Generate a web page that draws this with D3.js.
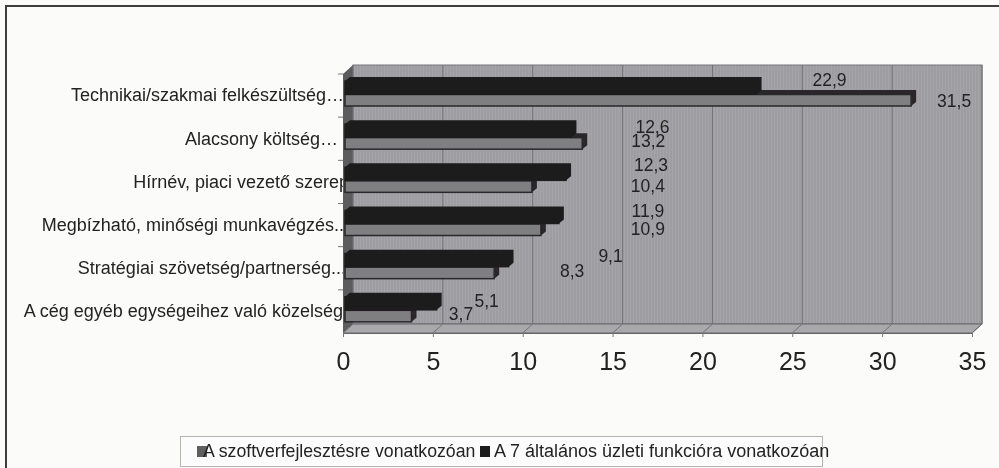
<!DOCTYPE html>
<html>
<head>
<meta charset="utf-8">
<script src="https://cdn.jsdelivr.net/npm/d3@7"></script>
<style>
html,body{margin:0;padding:0;background:#fbfbfa;}
svg{display:block;}
text{font-family:"Liberation Sans",Arial,sans-serif;fill:#232323;}
</style>
</head>
<body>
<svg id="chart"></svg>
<script>
var categories=['Technikai/szakmai felkészültség…','Alacsony költség…\u00a0','Hírnév, piaci vezető szerep','Megbízható, minőségi munkavégzés...','Stratégiai szövetség/partnerség...','A cég egyéb egységeihez való közelség'];
var softwareValues=[31.5,13.2,10.4,10.9,8.3,3.7];
var generalValues=[22.9,12.6,12.3,11.9,9.1,5.1];
var seriesNames=['A szoftverfejlesztésre vonatkozóan','A 7 általános üzleti funkcióra vonatkozóan'];
var xTicks=[0,5,10,15,20,25,30,35];

window.onload=function(){
    var width=999;
    var height=468;
    var plot={left:343,right:972,top:74,bottom:333};
    var depth={x:10,y:9};
    var barDepth={x:5,y:4};

    // hand placed value labels in the original, offset from the bar end
    var softwareNudge=[[43,7],[66,4],[116,6],[107,5.5],[78,4],[49.5,4]];
    var generalNudge=[[73,-14],[81,-10],[85,-15],[89,-12.5],[102,-11],[50,-9]];
    // some category labels run in under the side wall
    var labelShift=[1,0,6,6,3,0];

    var svg=d3.select('#chart').attr('width',width).attr('height',height);

    var xScale=d3.scaleLinear().domain([0,35]).range([plot.left,plot.right]);
    var yScale=d3.scaleBand().domain(categories).range([plot.top,plot.bottom]);

    var defs=svg.append('defs');
    var stripes=defs.append('pattern')
        .attr('id','stripes').attr('width',3).attr('height',4)
        .attr('patternUnits','userSpaceOnUse');
    stripes.append('rect').attr('width',3).attr('height',4).attr('fill','#9e9ea2');
    stripes.append('rect').attr('width',1).attr('height',4).attr('fill','#a5a5a9');
    // the reference is a scan, everything is a little soft
    defs.append('filter').attr('id','soft')
        .append('feGaussianBlur').attr('stdDeviation',0.45);

    var root=svg.append('g').attr('filter','url(#soft)');

    // page frame, only top and left survive the crop
    root.append('path')
        .attr('d','M6,'+height+'V6H'+width)
        .attr('fill','none').attr('stroke','#3c3c3c').attr('stroke-width',2);

    // category labels go under the walls, the third one is cut off by them
    root.append('g').selectAll('text')
        .data(categories)
        .enter()
        .append('text')
        .attr('x',function(d,i){return plot.left+labelShift[i];})
        .attr('y',function(d){return yScale(d)+yScale.bandwidth()/2-0.5;})
        .attr('dy','0.35em')
        .attr('text-anchor','end')
        .attr('font-size',18)
        .text(function(d){return d;});

    // back wall
    root.append('rect')
        .attr('x',plot.left+depth.x)
        .attr('y',plot.top-depth.y)
        .attr('width',plot.right-plot.left)
        .attr('height',plot.bottom-plot.top)
        .attr('fill','url(#stripes)')
        .attr('stroke','#77777a');

    // side wall and floor
    root.append('path')
        .attr('d','M'+plot.left+','+plot.top+'L'+(plot.left+depth.x)+','+(plot.top-depth.y)+'V'+(plot.bottom-depth.y)+'L'+plot.left+','+plot.bottom+'Z')
        .attr('fill','#5c5c5e');
    root.append('path')
        .attr('d','M'+plot.left+','+plot.bottom+'L'+(plot.left+depth.x)+','+(plot.bottom-depth.y)+'H'+(plot.right+depth.x)+'L'+plot.right+','+plot.bottom+'Z')
        .attr('fill','#a9a9ac')
        .attr('stroke','#66666a');

    // gridlines on wall and floor
    var grid=root.append('g').selectAll('g').data(xTicks).enter().append('g');
    grid.append('path')
        .attr('d',function(d){
            return 'M'+xScale(d)+','+plot.bottom+'L'+(xScale(d)+depth.x)+','+(plot.bottom-depth.y)+'V'+(plot.top-depth.y);
        })
        .attr('fill','none').attr('stroke','#727276');

    // left ticks on the band edges
    root.append('g').selectAll('line')
        .data(categories)
        .enter()
        .append('line')
        .attr('x1',plot.left-5).attr('x2',plot.left)
        .attr('y1',function(d){return yScale(d);})
        .attr('y2',function(d){return yScale(d);})
        .attr('stroke','#777');

    var xAxis=d3.axisBottom(xScale).tickValues(xTicks).tickSize(4).tickPadding(15);
    var axisG=root.append('g')
        .attr('transform','translate(0,'+plot.bottom+')')
        .call(xAxis);
    axisG.select('.domain').attr('stroke','#66666a');
    axisG.selectAll('line').attr('stroke','#777');
    axisG.selectAll('text').attr('font-size',25).attr('fill','#232323');

    function bar(value,top,front,bottom,fill,edge){
        var x0=xScale(0)+2;
        var x1=x0+xScale(value)-xScale(0);
        var g=root.append('g');
        // top face and end face
        g.append('path')
            .attr('d','M'+x0+','+front+'L'+(x0+barDepth.x)+','+top+'H'+(x1+barDepth.x)+'V'+(bottom-barDepth.y)+'L'+x1+','+bottom+'V'+front+'Z')
            .attr('fill',edge);
        g.append('rect')
            .attr('x',x0).attr('y',front)
            .attr('width',x1-x0).attr('height',bottom-front)
            .attr('fill',fill).attr('stroke',edge).attr('stroke-width',1.5);
    }

    categories.forEach(function(c,i){
        var y=yScale(c);
        bar(softwareValues[i],y+16,y+20.5,y+32,'#7f7f82','#29282a');
        bar(generalValues[i],y+3,y+7,y+20,'#1d1b1d','#1d1b1d');
    });

    function addLabels(values,nudge){
        root.append('g').selectAll('text')
            .data(values)
            .enter()
            .append('text')
            .attr('x',function(d,i){return xScale(d)+2+nudge[i][0];})
            .attr('y',function(d,i){return yScale(categories[i])+20+nudge[i][1];})
            .attr('dy','0.35em')
            .attr('text-anchor','middle')
            .attr('font-size',17.5)
            .text(function(d){return String(d).replace('.',',');});
    }
    addLabels(softwareValues,softwareNudge);
    addLabels(generalValues,generalNudge);

    // legend
    var legend=root.append('g');
    legend.append('rect')
        .attr('x',180.5).attr('y',436.5).attr('width',642).attr('height',30)
        .attr('fill','#fcfcfc').attr('stroke','#b4b4b4');
    var legendX=[197,480];
    var legendTextX=[203,494];
    var legendSize=[17.7,18];
    var legendColors=['#5e5e60','#1d1b1d'];
    seriesNames.forEach(function(name,i){
        legend.append('rect')
            .attr('x',legendX[i]).attr('y',446).attr('width',10).attr('height',11)
            .attr('fill',legendColors[i]);
        legend.append('text')
            .attr('x',legendTextX[i]).attr('y',451)
            .attr('dy','0.35em')
            .attr('font-size',legendSize[i])
            .text(name);
    });
}
</script>
</body>
</html>
